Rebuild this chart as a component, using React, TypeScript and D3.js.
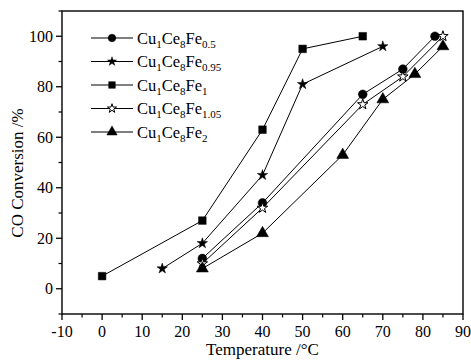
import React from "react";
import * as d3 from "d3";

const WIDTH = 471;
const HEIGHT = 361;

// Series data: temperature (°C) vs CO conversion (%)
const fe05Temp = [25, 40, 65, 75, 83];
const fe05Conv = [12, 34, 77, 87, 100];

const fe095Temp = [15, 25, 40, 50, 70];
const fe095Conv = [8, 18, 45, 81, 96];

const fe1Temp = [0, 25, 40, 50, 65];
const fe1Conv = [5, 27, 63, 95, 100];

const fe105Temp = [25, 40, 65, 75, 85];
const fe105Conv = [10, 32, 73, 84, 100];

const fe2Temp = [25, 40, 60, 70, 78, 85];
const fe2Conv = [8, 22, 53, 75, 85, 96];

const xTicks = [-10, 0, 10, 20, 30, 40, 50, 60, 70, 80, 90];
const yTicks = [0, 20, 40, 60, 80, 100];

const seriesNames = ["0.5", "0.95", "1", "1.05", "2"];

type Marker = "circle" | "star" | "square" | "openStar" | "triangle";

const series: { sub: string; temp: number[]; conv: number[]; marker: Marker }[] = [
  { sub: seriesNames[0], temp: fe05Temp, conv: fe05Conv, marker: "circle" },
  { sub: seriesNames[1], temp: fe095Temp, conv: fe095Conv, marker: "star" },
  { sub: seriesNames[2], temp: fe1Temp, conv: fe1Conv, marker: "square" },
  { sub: seriesNames[3], temp: fe105Temp, conv: fe105Conv, marker: "openStar" },
  { sub: seriesNames[4], temp: fe2Temp, conv: fe2Conv, marker: "triangle" },
];

const margin = { left: 62, right: 8, top: 11, bottom: 47 };
const plotRight = WIDTH - margin.right;
const plotBottom = HEIGHT - margin.bottom;

const x = d3.scaleLinear().domain([-10, 90]).range([margin.left, plotRight]);
const y = d3.scaleLinear().domain([-10, 110]).range([plotBottom, margin.top]);

const FONT = "Liberation Serif, Times New Roman, DejaVu Serif, serif";

function markerPath(m: Marker, scale = 1): string {
  const sym = d3.symbol();
  switch (m) {
    case "circle":
      return sym.type(d3.symbolCircle).size(60 * scale)()!;
    case "square":
      return sym.type(d3.symbolSquare).size(58 * scale)()!;
    case "triangle":
      return sym.type(d3.symbolTriangle).size(62 * scale)()!;
    default:
      return sym.type(d3.symbolStar).size(34 * scale)()!;
  }
}

function MarkerShape({ m, cx, cy, scale = 1 }: { m: Marker; cx: number; cy: number; scale?: number }) {
  const open = m === "openStar";
  return (
    <path
      d={markerPath(m, scale)}
      transform={`translate(${cx},${cy})`}
      fill={open ? "#fff" : "#000"}
      stroke="#000"
      strokeWidth={open ? 1 : 0.5}
    />
  );
}

export default function App() {
  const line = d3
    .line<[number, number]>()
    .x((d) => x(d[0]))
    .y((d) => y(d[1]));

  const xMinor = d3.range(-5, 90, 10);
  const yMinor = d3.range(-10, 111, 10).filter((v) => v % 20 !== 0);

  const legendX1 = 91;
  const legendX2 = 133;
  const legendMid = 112;
  const legendY0 = 38;
  const legendStep = 23.5;

  const textStyle = { fontFamily: FONT };

  return (
    <div style={{ position: "absolute", left: 0, top: 0 }}>
      <svg width={WIDTH} height={HEIGHT} style={{ display: "block", background: "#fff" }}>
        <rect x={0} y={0} width={WIDTH} height={HEIGHT} fill="#fff" />

        {/* series lines */}
        {series.map((s, i) => (
          <path
            key={`l${i}`}
            d={line(s.temp.map((t, j) => [t, s.conv[j]] as [number, number]))!}
            fill="none"
            stroke="#000"
            strokeWidth={1}
          />
        ))}

        {/* series markers */}
        {series.map((s, i) =>
          s.temp.map((t, j) => (
            <MarkerShape key={`m${i}-${j}`} m={s.marker} cx={x(t)} cy={y(s.conv[j])} />
          ))
        )}

        {/* frame */}
        <rect
          x={margin.left}
          y={margin.top}
          width={plotRight - margin.left}
          height={plotBottom - margin.top}
          fill="none"
          stroke="#000"
          strokeWidth={1.4}
        />

        {/* x axis ticks */}
        {xTicks.map((t) => (
          <g key={`xt${t}`}>
            <line x1={x(t)} x2={x(t)} y1={plotBottom} y2={plotBottom + 6} stroke="#000" strokeWidth={1.3} />
            <text
              x={x(t)}
              y={plotBottom + 23}
              textAnchor="middle"
              style={textStyle}
              fontSize={16}
              fill="#000"
            >
              {t}
            </text>
          </g>
        ))}
        {xMinor.map((t) => (
          <line key={`xm${t}`} x1={x(t)} x2={x(t)} y1={plotBottom} y2={plotBottom + 3.5} stroke="#000" strokeWidth={1.2} />
        ))}

        {/* y axis ticks */}
        {yTicks.map((t) => (
          <g key={`yt${t}`}>
            <line x1={margin.left - 6} x2={margin.left} y1={y(t)} y2={y(t)} stroke="#000" strokeWidth={1.3} />
            <text
              x={margin.left - 9}
              y={y(t)}
              dy="0.35em"
              textAnchor="end"
              style={textStyle}
              fontSize={16}
              fill="#000"
            >
              {t}
            </text>
          </g>
        ))}
        {yMinor.map((t) => (
          <line key={`ym${t}`} x1={margin.left - 3.5} x2={margin.left} y1={y(t)} y2={y(t)} stroke="#000" strokeWidth={1.2} />
        ))}

        {/* axis titles */}
        <text
          x={(margin.left + plotRight) / 2}
          y={355}
          textAnchor="middle"
          style={textStyle}
          fontSize={17}
          fill="#000"
        >
          Temperature /°C
        </text>
        <text
          transform={`translate(23,173) rotate(-90)`}
          textAnchor="middle"
          style={textStyle}
          fontSize={17}
          fill="#000"
        >
          CO Conversion /%
        </text>

        {/* legend */}
        {series.map((s, i) => {
          const ly = legendY0 + i * legendStep;
          return (
            <g key={`lg${i}`}>
              <line x1={legendX1} x2={legendX2} y1={ly} y2={ly} stroke="#000" strokeWidth={1} />
              <MarkerShape m={s.marker} cx={legendMid} cy={ly} scale={0.75} />
              <text x={137} y={ly} dy="0.36em" style={textStyle} fontSize={16.5} fill="#000">
                Cu
                <tspan fontSize={11} dy={4}>1</tspan>
                <tspan dy={-4}>Ce</tspan>
                <tspan fontSize={11} dy={4}>8</tspan>
                <tspan dy={-4}>Fe</tspan>
                <tspan fontSize={11} dy={4}>{s.sub}</tspan>
              </text>
            </g>
          );
        })}
      </svg>
    </div>
  );
}
